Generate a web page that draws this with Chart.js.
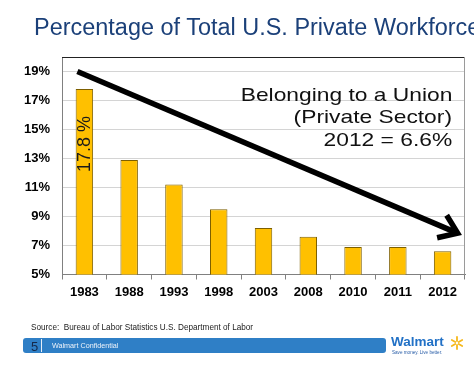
<!DOCTYPE html>
<html>
<head>
<meta charset="utf-8">
<script src="https://cdn.jsdelivr.net/npm/chart.js@4.4.1/dist/chart.umd.min.js"></script>
<style>
  html, body { margin: 0; padding: 0; background: #fff; overflow: hidden; }
  #wrap { position: relative; width: 474px; height: 366px; overflow: hidden; font-family: 'Liberation Sans', Arial, sans-serif; }
  #chart { position: absolute; left: 0; top: 0; }
  .title { position: absolute; left: 34px; top: 16px; font-size: 23px; line-height: 23px; color: #1b4079; white-space: nowrap; transform: scaleX(1.02); transform-origin: left center; }
  .note { position: absolute; right: 22px; font-size: 19px; line-height: 23px; color: #111; white-space: nowrap; transform: scaleX(1.2); transform-origin: right center; }
  .source { position: absolute; left: 31px; top: 323px; font-size: 8.2px; line-height: 10px; color: #222; white-space: nowrap; }
  .footbar { position: absolute; left: 23px; top: 338px; width: 363px; height: 15px; background: #2f7fc6; border-radius: 3px; }
  .pagenum { position: absolute; left: 8px; top: 1px; font-size: 13px; line-height: 15px; color: #15294a; }
  .divider { position: absolute; left: 18px; top: 1px; width: 1px; height: 13px; background: #e6eef8; }
  .confid { position: absolute; left: 29px; top: 3px; font-size: 7.2px; line-height: 9px; color: #eef3fa; white-space: nowrap; }
  .logo { position: absolute; left: 391px; top: 335px; font-size: 13.5px; font-weight: bold; line-height: 14px; color: #2271c6; white-space: nowrap; }
  .tag { position: absolute; left: 392px; top: 350px; font-size: 4.6px; line-height: 5px; color: #2a5ea8; white-space: nowrap; }
  .spark { position: absolute; left: 450px; top: 336px; }
</style>
</head>
<body>
<div id="wrap">
  <canvas id="chart" width="474" height="366"></canvas>
  <div class="title">Percentage of Total U.S. Private Workforce</div>
  <div class="note" style="top:83px">Belonging to a Union</div>
  <div class="note" style="top:105px">(Private Sector)</div>
  <div class="note" id="lastNote" style="top:128px"></div>
  <div class="source">Source:&nbsp; Bureau of Labor Statistics U.S. Department of Labor</div>
  <div class="footbar">
    <div class="pagenum">5</div>
    <div class="divider"></div>
    <div class="confid">Walmart Confidential</div>
  </div>
  <div class="logo">Walmart</div>
  <div class="tag">Save money. Live better.</div>
  <svg class="spark" width="14" height="14" viewBox="-7 -7 14 14">
    <g stroke="#f5b81c" stroke-width="1.8" stroke-linecap="round">
      <line x1="0" y1="-2" x2="0" y2="-6"/>
      <line x1="0" y1="2" x2="0" y2="6"/>
      <line x1="1.7" y1="-1" x2="5.2" y2="-3"/>
      <line x1="-1.7" y1="-1" x2="-5.2" y2="-3"/>
      <line x1="1.7" y1="1" x2="5.2" y2="3"/>
      <line x1="-1.7" y1="1" x2="-5.2" y2="3"/>
    </g>
  </svg>
</div>
<script>
var years = ['1983', '1988', '1993', '1998', '2003', '2008', '2010', '2011', '2012'];
var unionShare = [17.8, 12.9, 11.2, 9.5, 8.2, 7.6, 6.9, 6.9, 6.6];
var yTicks = [5, 7, 9, 11, 13, 15, 17, 19];
var yMin = 5;
var yMax = 20;

var last = years.length - 1;
document.getElementById('lastNote').textContent = years[last] + ' = ' + unionShare[last] + '%';

Chart.defaults.font.family = "'Liberation Sans', Arial, sans-serif";

// box, arrow and rotated value label
var extras = {
    id: 'extras',
    afterDatasetsDraw: function (chart) {
        var ctx = chart.ctx;
        var a = chart.chartArea;
        var x = chart.scales.x, y = chart.scales.y;
        ctx.save();
        ctx.lineWidth = 1;
        ctx.strokeStyle = '#222';
        ctx.beginPath();
        ctx.moveTo(a.left, a.top + 0.5);
        ctx.lineTo(a.right, a.top + 0.5);
        ctx.stroke();
        ctx.strokeStyle = '#9a9a9a';
        ctx.beginPath();
        ctx.moveTo(a.right - 0.5, a.top);
        ctx.lineTo(a.right - 0.5, a.bottom);
        ctx.stroke();

        // arrow
        var x0 = x.getPixelForValue(0) - 7, y0 = y.getPixelForValue(19);
        var x1 = x.getPixelForValue(last) + 15, y1 = y.getPixelForValue(7.85);
        var ang = Math.atan2(y1 - y0, x1 - x0);
        ctx.strokeStyle = '#000';
        ctx.lineWidth = 5.5;
        ctx.lineCap = 'butt';
        ctx.beginPath();
        ctx.moveTo(x0, y0);
        ctx.lineTo(x1 - 4 * Math.cos(ang), y1 - 4 * Math.sin(ang));
        ctx.stroke();
        var len = 21;
        ctx.lineJoin = 'miter';
        ctx.beginPath();
        ctx.moveTo(x1 - len * Math.cos(ang - 0.62), y1 - len * Math.sin(ang - 0.62));
        ctx.lineTo(x1, y1);
        ctx.lineTo(x1 - len * Math.cos(ang + 0.62), y1 - len * Math.sin(ang + 0.62));
        ctx.stroke();

        // rotated label in first bar
        var bar = chart.getDatasetMeta(0).data[0];
        ctx.translate(bar.x + 1, bar.y + 55);
        ctx.rotate(-Math.PI / 2);
        ctx.fillStyle = '#1a1a1a';
        ctx.font = "18px 'Liberation Sans', Arial, sans-serif";
        ctx.textAlign = 'center';
        ctx.textBaseline = 'middle';
        ctx.fillText(unionShare[0].toFixed(1) + ' %', 0, 0);
        ctx.restore();
    }
};

var ctx = document.getElementById('chart').getContext('2d');
var chart = new Chart(ctx, {
    type: 'bar',
    data: {
        labels: years,
        datasets: [{
            label: 'Union members',
            data: unionShare,
            backgroundColor: '#FFC000',
            borderColor: '#7d5f00',
            borderWidth: 1,
            categoryPercentage: 1,
            barPercentage: 0.39
        }]
    },
    options: {
        responsive: false,
        devicePixelRatio: 1,
        animation: false,
        layout: { padding: { left: 0, right: 9, top: 57, bottom: 61.5 } },
        plugins: {
            legend: { display: false },
            tooltip: { enabled: false }
        },
        scales: {
            x: {
                afterFit: function (s) { s.height = 30; },
                grid: { offset: true, drawOnChartArea: false, drawTicks: true, tickLength: 5, color: '#808080' },
                border: { color: '#808080' },
                ticks: { color: '#000', font: { size: 13, weight: 'bold' }, padding: 5, maxRotation: 0 }
            },
            y: {
                min: yMin,
                max: yMax,
                afterFit: function (s) { s.width = 62; },
                afterBuildTicks: function (s) {
                    s.ticks = yTicks.map(function (v) { return { value: v }; });
                },
                grid: { color: '#d4d4d4', drawTicks: false },
                border: { color: '#808080' },
                ticks: {
                    padding: 12,
                    color: '#000',
                    font: { size: 13, weight: 'bold' },
                    callback: function (v) { return v + '%'; }
                }
            }
        }
    },
    plugins: [extras]
});
</script>
</body>
</html>
